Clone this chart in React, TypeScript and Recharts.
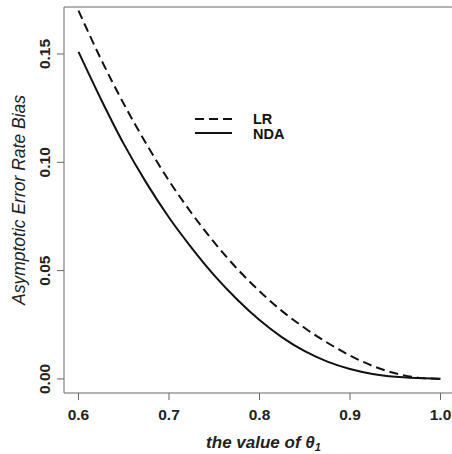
import React from 'react';
import { LineChart, Line, XAxis, YAxis, ReferenceLine } from 'recharts';

const thetas = [0.6, 0.625, 0.65, 0.675, 0.7, 0.725, 0.75, 0.775, 0.8, 0.825, 0.85, 0.875, 0.9, 0.925, 0.95, 0.975, 1.0];
const lrBias = [0.170, 0.1475, 0.127, 0.1085, 0.0915, 0.0765, 0.063, 0.051, 0.0405, 0.0313, 0.0235, 0.0167, 0.0108, 0.006, 0.0026, 0.0006, 0];
const ndaBias = [0.151, 0.129, 0.1085, 0.0905, 0.0745, 0.0605, 0.0478, 0.0368, 0.0272, 0.0192, 0.0128, 0.008, 0.0046, 0.0023, 0.001, 0.0004, 0.0001];
const xTicks = [0.6, 0.7, 0.8, 0.9, 1.0];
const yTicks = [0, 0.05, 0.1, 0.15];
const seriesNames = ['LR', 'NDA'];

const X_DOMAIN: [number, number] = [0.584, 1.016];
const Y_DOMAIN: [number, number] = [-0.0065, 0.1717];

const FONT = '"Liberation Sans", Arial, sans-serif';
const AXIS_COLOR = '#666';

const data = thetas.map((t, i) => ({ theta: t, lr: lrBias[i], nda: ndaBias[i] }));

const XTick = (props: any) => {
    const { x, y, payload } = props;
    return (
        <text x={x} y={y + 12} textAnchor="middle" dominantBaseline="central"
            fontFamily={FONT} fontSize={15.5} fontWeight="bold" fill="#222">
            {payload.value.toFixed(1)}
        </text>
    );
};

const YTick = (props: any) => {
    const { x, y, payload } = props;
    const cx = x - 10;
    return (
        <text x={cx} y={y} transform={`rotate(-90 ${cx} ${y})`} textAnchor="middle" dominantBaseline="central"
            fontFamily={FONT} fontSize={15.5} fontWeight="bold" fill="#222">
            {payload.value.toFixed(2)}
        </text>
    );
};

// legend drawn on top of the plot, like R's legend() box without border
const LegendBox = () => (
    <svg width={110} height={40} style={{ position: 'absolute', left: 190, top: 110 }}>
        <line x1={5} x2={42} y1={9} y2={9} stroke="#111" strokeWidth={2} strokeDasharray="9 5" />
        <line x1={5} x2={42} y1={23} y2={23} stroke="#111" strokeWidth={2} />
        <text x={63} y={9} dominantBaseline="central" fontFamily={FONT} fontSize={14.5} fontWeight="bold" fill="#111">{seriesNames[0]}</text>
        <text x={63} y={24} dominantBaseline="central" fontFamily={FONT} fontSize={14.5} fontWeight="bold" fill="#111">{seriesNames[1]}</text>
    </svg>
);

export default function App() {
    return (
        <div style={{ position: 'absolute', left: 0, top: 0, width: 452, height: 454, overflow: 'hidden', background: '#fff' }}>
            <LineChart width={455} height={454} data={data} margin={{ top: 7, right: 0, bottom: 0, left: 0 }}>
                <XAxis
                    dataKey="theta"
                    type="number"
                    domain={X_DOMAIN}
                    ticks={xTicks}
                    height={61}
                    tickSize={7}
                    stroke={AXIS_COLOR}
                    tick={<XTick />}
                    allowDataOverflow
                    label={({ viewBox }: any) => (
                        <text x={viewBox.x + viewBox.width / 2 + 4} y={442} textAnchor="middle" dominantBaseline="central"
                            fontFamily={FONT} fontSize={17} fontStyle="italic" fontWeight="bold" fill="#222">
                            the value of θ<tspan fontSize={11} dy={5}>1</tspan>
                        </text>
                    )}
                />
                <YAxis
                    type="number"
                    domain={Y_DOMAIN}
                    ticks={yTicks}
                    width={64}
                    tickSize={7}
                    stroke={AXIS_COLOR}
                    tick={<YTick />}
                    allowDataOverflow
                    label={({ viewBox }: any) => {
                        const cy = viewBox.y + viewBox.height / 2;
                        return (
                            <text x={19} y={cy} transform={`rotate(-90 19 ${cy})`} textAnchor="middle" dominantBaseline="central"
                                fontFamily={FONT} fontSize={17.5} fontStyle="italic" fill="#222">
                                Asymptotic Error Rate Bias
                            </text>
                        );
                    }}
                />
                <ReferenceLine y={Y_DOMAIN[1]} stroke={AXIS_COLOR} strokeWidth={1} />
                <Line type="monotone" dataKey="lr" name={seriesNames[0]} stroke="#111" strokeWidth={2} strokeDasharray="9 5" dot={false} isAnimationActive={false} />
                <Line type="monotone" dataKey="nda" name={seriesNames[1]} stroke="#111" strokeWidth={2} dot={false} isAnimationActive={false} />
            </LineChart>
            <LegendBox />
        </div>
    );
}
